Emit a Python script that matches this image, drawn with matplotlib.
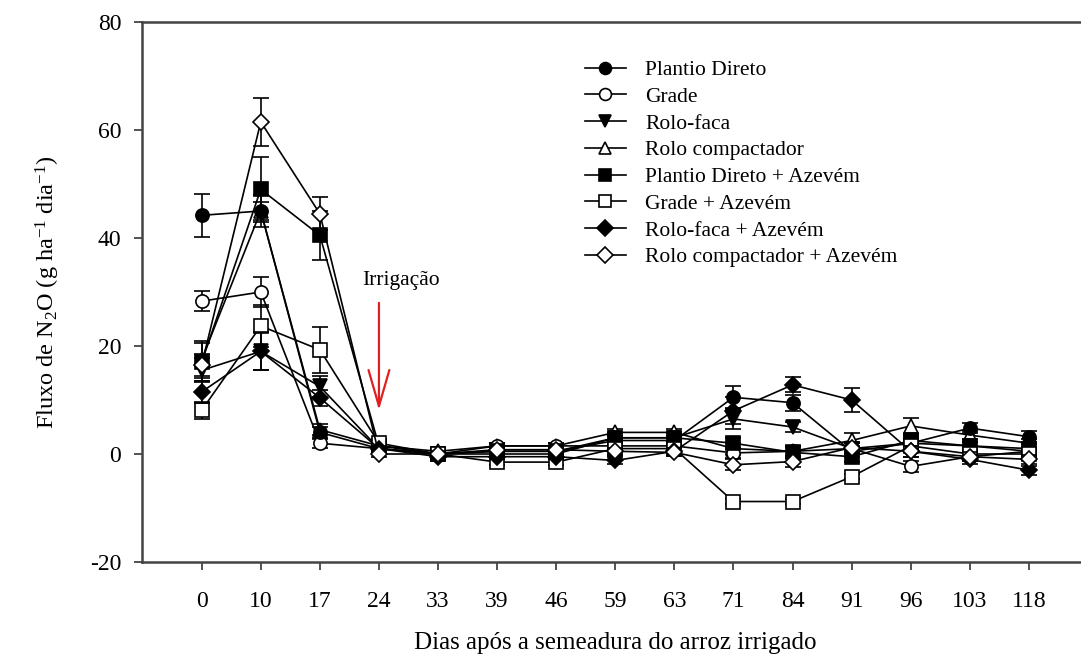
import matplotlib
matplotlib.use("Agg")
import matplotlib.pyplot as plt
from matplotlib.lines import Line2D

plt.rcParams["font.family"] = ["Liberation Serif", "DejaVu Serif"]
plt.rcParams["mathtext.fontset"] = "custom"
plt.rcParams["mathtext.rm"] = "Liberation Serif"
plt.rcParams["mathtext.it"] = "Liberation Serif:italic"
plt.rcParams["axes.unicode_minus"] = False

# Sampling days (equally spaced categories on the x axis)
dias = ["0", "10", "17", "24", "33", "39", "46", "59", "63", "71", "84", "91", "96", "103", "118"]

# N2O flux (g ha-1 dia-1) and standard errors per treatment
pd_val = [44.2, 45.0, 4.0, 1.0, 0.0, 0.5, 0.5, 2.5, 2.5, 10.5, 9.5, 0.5, 2.0, 4.8, 3.2]
pd_err = [4.0, 3.0, 1.0, 0.5, 0.5, 0.5, 0.5, 0.8, 0.8, 2.0, 1.5, 1.0, 1.0, 1.0, 1.0]

grade_val = [28.3, 30.0, 2.0, 1.0, 0.0, 1.5, 1.5, 1.5, 1.5, 0.2, 0.5, 1.0, -2.3, -0.5, 0.5]
grade_err = [1.9, 2.8, 0.8, 0.5, 0.5, 0.5, 0.5, 0.6, 0.6, 1.0, 1.0, 1.0, 1.0, 0.8, 0.8]

rf_val = [15.5, 19.0, 12.5, 1.0, 0.0, 0.0, 0.0, 3.0, 3.0, 6.5, 5.0, 1.0, 2.0, 1.5, 0.5]
rf_err = [2.2, 3.5, 2.0, 0.5, 0.5, 0.5, 0.5, 0.8, 0.8, 1.8, 1.0, 1.0, 1.0, 0.8, 0.8]

rc_val = [17.5, 45.0, 4.5, 1.5, 0.5, 1.5, 1.5, 4.0, 4.0, 1.0, 0.5, 2.5, 5.2, 3.5, 2.0]
rc_err = [3.5, 1.7, 1.0, 0.5, 0.5, 0.5, 0.5, 0.6, 0.6, 1.0, 1.0, 1.3, 1.5, 0.8, 0.8]

pdaz_val = [17.0, 49.0, 40.5, 1.5, 0.0, 0.5, 0.5, 3.0, 3.0, 2.0, 0.3, -0.5, 2.5, 1.5, 1.0]
pdaz_err = [3.5, 6.0, 4.5, 0.5, 0.5, 0.5, 0.5, 0.8, 0.8, 1.0, 1.0, 1.0, 1.0, 0.8, 0.8]

gaz_val = [8.1, 23.7, 19.3, 2.0, 0.0, -1.5, -1.5, 1.0, 1.0, -8.8, -8.8, -4.2, 1.5, 0.0, 0.0]
gaz_err = [1.6, 3.9, 4.3, 0.5, 0.5, 0.5, 0.5, 0.6, 0.6, 0.5, 0.5, 0.5, 1.0, 0.8, 0.8]

rfaz_val = [11.5, 19.0, 10.4, 1.0, -0.5, -0.5, -0.5, -1.2, 0.5, 8.0, 12.8, 10.0, 0.5, -1.0, -3.0]
rfaz_err = [2.0, 3.5, 1.5, 0.5, 0.5, 0.5, 0.5, 0.6, 0.6, 2.5, 1.4, 2.3, 1.0, 0.8, 0.8]

rcaz_val = [16.5, 61.5, 44.5, 0.0, 0.0, 0.8, 0.8, 0.5, 0.3, -2.0, -1.4, 1.2, 0.5, -0.5, -1.0]
rcaz_err = [2.0, 4.4, 3.0, 0.5, 0.5, 0.5, 0.5, 0.6, 0.6, 1.0, 1.0, 1.0, 1.0, 0.8, 0.8]

# name, values, errors, marker, face colour, drawing order
series = [
    ("Plantio Direto", pd_val, pd_err, "o", "black", 6),
    ("Grade", grade_val, grade_err, "o", "white", 4),
    ("Rolo-faca", rf_val, rf_err, "v", "black", 5),
    ("Rolo compactador", rc_val, rc_err, "^", "white", 3),
    ("Plantio Direto + Azevém", pdaz_val, pdaz_err, "s", "black", 7),
    ("Grade + Azevém", gaz_val, gaz_err, "s", "white", 8),
    ("Rolo-faca + Azevém", rfaz_val, rfaz_err, "D", "black", 9),
    ("Rolo compactador + Azevém", rcaz_val, rcaz_err, "D", "white", 10),
]

W, H = 1081, 660
fig = plt.figure(figsize=(W / 100, H / 100), dpi=100)
ax = fig.add_axes([142 / W, (H - 562) / H, 946 / W, 540 / H])

x = list(range(len(dias)))
handles = []
for name, vals, errs, mk, fc, z in series:
    ms = {"o": 9.5, "s": 9.5, "v": 10, "^": 10, "D": 8.5}[mk]
    ax.errorbar(x, vals, yerr=errs, color="black", lw=1.2,
                marker=mk, markersize=ms, markerfacecolor=fc,
                markeredgecolor="black", markeredgewidth=1.2,
                ecolor="black", elinewidth=1.2, capsize=5.5, capthick=1.3,
                zorder=z)
    handles.append(Line2D([], [], color="black", lw=1.2, marker=mk,
                          markersize=ms * 0.9, markerfacecolor=fc,
                          markeredgecolor="black", markeredgewidth=1.2,
                          label=name))

ax.set_xlim(-1.01, 15)
ax.set_ylim(-20, 80)
ax.set_xticks(x)
ax.set_xticklabels(dias)
ax.set_yticks([-20, 0, 20, 40, 60, 80])
ax.tick_params(axis="both", direction="out", length=6, width=1.3,
               labelsize=17, colors="#444444", labelcolor="black")
ax.tick_params(axis="x", pad=15)
ax.tick_params(axis="y", pad=9)

for side in ("left", "bottom", "top"):
    ax.spines[side].set_linewidth(1.8)
    ax.spines[side].set_color("#444444")
ax.spines["right"].set_visible(False)

ax.set_xlabel("Dias após a semeadura do arroz irrigado", fontsize=18, labelpad=14)
ax.set_ylabel("Fluxo de N$_2$O (g ha$^{-1}$ dia$^{-1}$)", fontsize=17.5, labelpad=20)

# Irrigation marker
ax.annotate("", xy=(3, 7.6), xytext=(3, 28.5),
            arrowprops=dict(arrowstyle="->,head_length=2.6,head_width=0.75",
                            mutation_scale=10, color="#e02020", lw=1.6))
ax.text(3.38, 32.2, "Irrigação", fontsize=15.5, ha="center", va="center")

leg = ax.legend(handles=handles, loc="upper left",
                bbox_to_anchor=(585 / W, (H - 60) / H),
                bbox_transform=fig.transFigure, frameon=False,
                fontsize=15.5, handlelength=1.9, handletextpad=0.9,
                labelspacing=0.31, borderpad=0, borderaxespad=0)

fig.savefig("out.png", dpi=100)
